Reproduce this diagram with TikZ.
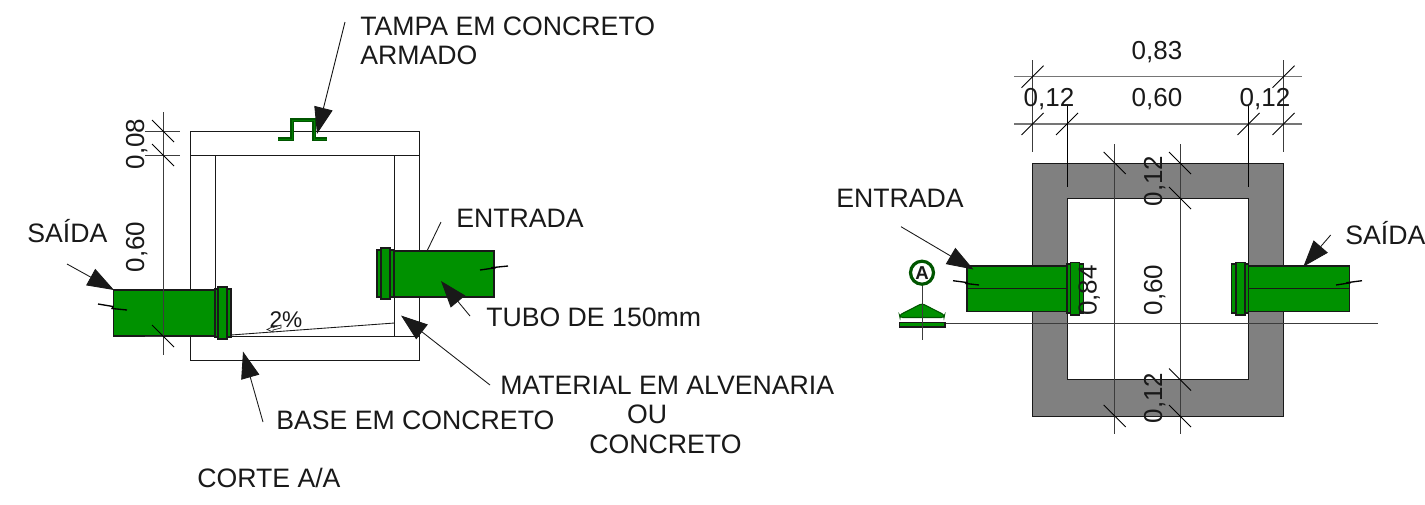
\documentclass[tikz,border=0pt]{standalone}
\usepackage{fontspec}
\setmainfont{Liberation Sans}
\usetikzlibrary{arrows.meta}
\definecolor{pipegreen}{RGB}{0,145,0}
\definecolor{darkgreen}{RGB}{0,85,0}
\definecolor{wallgrey}{RGB}{128,128,128}
\definecolor{ink}{RGB}{25,25,25}
\newcommand{\dslash}[3]{\draw[tick] (#1-#3*11,#2-11) -- (#1+#3*11,#2+11);}
\tikzset{
  every node/.style={font=\fontsize{20pt}{20pt}\selectfont, inner sep=0pt, text=ink},
  lbl/.style={anchor=base west},
  ctr/.style={anchor=base},
  dimtext/.style={anchor=base, font=\fontsize{19.5pt}{19.5pt}\selectfont},
  vert/.style={anchor=base, rotate=90, font=\fontsize{19.5pt}{19.5pt}\selectfont},
  wall/.style={draw=ink, line width=0.75pt},
  dimline/.style={draw=ink!85, line width=0.7pt},
  tick/.style={draw=black, line width=0.65pt},
  pipe/.style={draw=ink, fill=pipegreen, line width=0.8pt},
  leader/.style={draw=ink, line width=0.65pt, -{Triangle[length=20pt,width=14pt]}},
  plainleader/.style={draw=ink, line width=0.65pt},
  brk/.style={draw=black, line width=1pt},
}
\begin{document}
\begin{tikzpicture}[x=0.75pt,y=-0.75pt]
\useasboundingbox (0,0) rectangle (1425,504);
\fill[white] (0,0) rectangle (1425,504);

% ---------- section A/A ----------
\draw[wall] (190,131) rectangle (419,360);
\draw[wall] (190,155) -- (419,155);
\draw[wall] (190,336) -- (419,336);
\draw[wall] (215,155) -- (215,336);
\draw[wall] (394.7,155) -- (394.7,336);
\draw[plainleader] (231,335) -- (394.5,323);

% lid handle
\draw[darkgreen, line width=2.8pt] (278,139) -- (292,139) -- (292,120) -- (314,120) -- (314,139) -- (327,139);
\draw[pipegreen!70!darkgreen, line width=0.7pt] (278,139) -- (292,139) -- (292,120) -- (314,120) -- (314,139) -- (327,139);

% pipes
\draw[pipe] (113.5,290) rectangle (215,336);
\draw[pipe] (215,289) rectangle (218,337);
\draw[pipe] (227,289) rectangle (231,337);
\draw[pipe] (218,287) rectangle (227,339);
\draw[pipe] (394,251) rectangle (494,297);
\draw[pipe] (377,250) rectangle (381,297);
\draw[pipe] (390,250) rectangle (394,297);
\draw[pipe] (381,248) rectangle (390,299);
\draw[brk] (98,304) -- (113,306.5) -- (112,308.5) -- (127,310);
\draw[brk] (480,270) -- (494,268) -- (493,267.5) -- (508,266);

% dimension chain
\draw[dimline] (163,112) -- (163,355);
\draw[dimline] (145,131) -- (180,131);
\draw[dimline] (145,155) -- (180,155);
\draw[dimline] (145,336) -- (163,336);
\dslash{163}{131}{1}
\dslash{163}{155}{1}
\dslash{163}{336}{1}
\node[vert] (dimA) at (144,144) {0,08};
\node[vert] (dimB) at (144,247) {0,60};

% slope mark
\node[ctr, font=\fontsize{17pt}{17pt}\selectfont] (slope) at (286,327) {2\%};
\draw[ink, fill=white, line width=0.5pt] (267,329.5) -- (273,326.5) -- (273,327.5) -- (281,325) -- (281,328) -- (273,330) -- (273,332) -- cycle;

% labels of section
\node[lbl] (tampaA) at (360,35) {TAMPA EM CONCRETO};
\node[lbl] (tampaB) at (360,64) {ARMADO};
\node[lbl] (saidaL) at (27,242) {SAÍDA};
\node[lbl] (entradaL) at (456,227) {ENTRADA};
\node[lbl] (tubo) at (486,326) {TUBO DE 150mm};
\node[lbl] (matA) at (500,394) {MATERIAL EM ALVENARIA};
\node[ctr] (matB) at (647,423) {OU};
\node[ctr] (matC) at (665.5,453) {CONCRETO};
\node[lbl] (base) at (276,429) {BASE EM CONCRETO};
\node[lbl] (corte) at (197,487) {CORTE A/A};

\coordinate (tA) at (345,22);   \coordinate (tB) at (317,134);
\coordinate (sA) at (67,264);   \coordinate (sB) at (114,290);
\coordinate (eA) at (441,222);  \coordinate (eB) at (427,251);
\coordinate (uA) at (470,316);  \coordinate (uB) at (441,281);
\coordinate (mA) at (490,385);  \coordinate (mB) at (401,315.5);
\coordinate (bA) at (263,422);  \coordinate (bB) at (243,351.5);
\draw[leader] (tA) -- (tB);
\draw[leader] (sA) -- (sB);
\draw[plainleader] (eA) -- (eB);
\draw[leader] (uA) -- (uB);
\draw[leader] (mA) -- (mB);
\draw[leader] (bA) -- (bB);

% ---------- plan ----------
\fill[wallgrey, even odd rule] (1032.5,163) rectangle (1283.5,416) (1067,198) rectangle (1248.5,379.5);
\draw[wall] (1032.5,163) rectangle (1283.5,416);
\draw[wall] (1067,198) rectangle (1248.5,379.5);

% section line
\draw[dimline] (945,323) -- (1377.5,323);

% horizontal chain
\draw[draw=ink!60, line width=0.9pt] (1014,76.7) -- (1301.7,76.7);
\draw[draw=ink!60, line width=0.9pt] (1014,124) -- (1301.7,124);
\draw[dimline] (1032.5,60) -- (1032.5,152);
\draw[dimline] (1283.5,60) -- (1283.5,152);
\draw[draw=black, line width=0.8pt] (1067.3,105) -- (1067.3,187);
\draw[draw=black, line width=0.8pt] (1248.5,105) -- (1248.5,187);
\dslash{1032.5}{76.7}{-1}
\dslash{1032.5}{124}{-1}
\dslash{1067}{124}{-1}
\dslash{1248.5}{124}{-1}
\dslash{1283.5}{76.7}{-1}
\dslash{1283.5}{124}{-1}
\node[dimtext] (d83) at (1157,59) {0,83};
\node[dimtext] (d12a) at (1049,106) {0,12};
\node[dimtext] (d60) at (1157,106) {0,60};
\node[dimtext] (d12b) at (1265,106) {0,12};

% vertical chain
\draw[dimline] (1114.7,144) -- (1114.7,434);
\draw[dimline] (1180,144) -- (1180,434);
\dslash{1114.7}{163}{1}
\dslash{1180}{163}{1}
\dslash{1180}{198}{1}
\dslash{1114.7}{416}{1}
\dslash{1180}{379.5}{1}
\dslash{1180}{416}{1}

% pipes of plan
\draw[pipe] (967,266) rectangle (1067,311.7);
\draw[pipe] (967,288.7) -- (1067,288.7);
\draw[pipe] (1067,264) rectangle (1070.5,313);
\draw[pipe] (1079.7,264) rectangle (1083.7,313);
\draw[pipe] (1070.5,262.3) rectangle (1079.7,315);
\draw[pipe] (1248.5,266) rectangle (1349.3,311.7);
\draw[pipe] (1248.5,288.7) -- (1349.3,288.7);
\draw[pipe] (1231.7,264) rectangle (1236,313);
\draw[pipe] (1245,264) rectangle (1248.5,313);
\draw[pipe] (1236,262.3) rectangle (1245,315);
\draw[brk] (953,280.7) -- (967,282.5) -- (966,283.5) -- (979,285);
\draw[brk] (1336,285) -- (1349,283) -- (1348,282.5) -- (1362,280.7);

\node[vert] (v84) at (1096.7,290.5) {0,84};
\node[vert] (v12a) at (1162,181) {0,12};
\node[vert] (v60) at (1162,290) {0,60};
\node[vert] (v12b) at (1162,398) {0,12};

% section marker
\draw[dimline] (922,285) -- (922,340);
\draw[pipe, darkgreen, fill=pipegreen, rounded corners=2pt] (922,303.5) -- (944.5,315) -- (944,317.5) -- (900,317.5) -- (899.5,315) -- cycle;
\draw[pipe, fill=pipegreen] (899.5,322.7) rectangle (945,327);
\draw[dimline] (922,303.5) -- (922,340);
\draw[darkgreen, line width=2.4pt, fill=white] (922,272.7) circle[radius=11.5];
\node[anchor=base, font=\bfseries\fontsize{14pt}{14pt}\selectfont] (markA) at (922,279.5) {A};

% labels of plan
\node[lbl] (entradaR) at (836,207) {ENTRADA};
\node[lbl] (saidaR) at (1345,244) {SAÍDA};
\coordinate (nA) at (901,226.7);  \coordinate (nB) at (973.5,269.5);
\coordinate (oA) at (1330.7,235); \coordinate (oB) at (1303.3,266.7);
\draw[leader] (nA) -- (nB);
\draw[leader] (oA) -- (oB);
\end{tikzpicture}
\end{document}
